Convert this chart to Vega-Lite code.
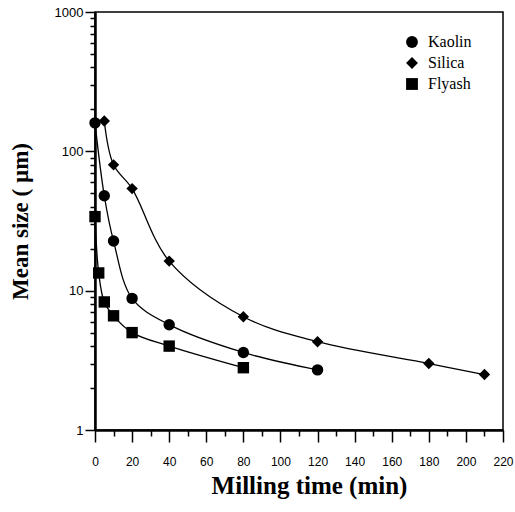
{
  "$schema": "https://vega.github.io/schema/vega-lite/v6.json",
  "width": 408,
  "height": 418,
  "autosize": {"type": "none"},
  "padding": {"left": 95, "top": 12, "right": 12, "bottom": 82},
  "background": "white",
  "config": {
    "view": {"stroke": "black", "strokeWidth": 1.5},
    "axis": {"grid": false, "domainColor": "black", "domainWidth": 2.5, "tickColor": "black", "tickWidth": 1.5,
      "labelFont": "Liberation Sans", "labelFontSize": 12, "labelColor": "black",
      "titleFont": "Liberation Serif", "titleFontSize": 25, "titleFontWeight": "bold", "titleColor": "black"},
    "legend": {"labelFont": "Liberation Serif", "labelFontSize": 16, "labelColor": "black"},
    "font": "Liberation Serif"
  },
  "data": {"values": [
    {"material": "Kaolin", "t": 0, "size": 160},
    {"material": "Kaolin", "t": 5, "size": 48},
    {"material": "Kaolin", "t": 10, "size": 22.7},
    {"material": "Kaolin", "t": 20, "size": 8.8},
    {"material": "Kaolin", "t": 40, "size": 5.7},
    {"material": "Kaolin", "t": 80, "size": 3.6},
    {"material": "Kaolin", "t": 120, "size": 2.7},
    {"material": "Silica", "t": 5, "size": 165},
    {"material": "Silica", "t": 10, "size": 80},
    {"material": "Silica", "t": 20, "size": 54},
    {"material": "Silica", "t": 40, "size": 16.3},
    {"material": "Silica", "t": 80, "size": 6.5},
    {"material": "Silica", "t": 120, "size": 4.3},
    {"material": "Silica", "t": 180, "size": 3.0},
    {"material": "Silica", "t": 210, "size": 2.5},
    {"material": "Flyash", "t": 0, "size": 34},
    {"material": "Flyash", "t": 2, "size": 13.4},
    {"material": "Flyash", "t": 5, "size": 8.3},
    {"material": "Flyash", "t": 10, "size": 6.6},
    {"material": "Flyash", "t": 20, "size": 5.0},
    {"material": "Flyash", "t": 40, "size": 4.0},
    {"material": "Flyash", "t": 80, "size": 2.8}
  ]},
  "encoding": {
    "x": {"field": "t", "type": "quantitative",
      "scale": {"domain": [0, 220], "nice": false, "zero": false},
      "axis": {"title": "Milling time (min)",
        "values": [0,10,20,30,40,50,60,70,80,90,100,110,120,130,140,150,160,170,180,190,200,210,220],
        "labelExpr": "datum.value % 20 === 0 ? datum.value : ''",
        "tickSize": {"condition": {"test": "datum.value % 20 === 0", "value": 12}, "value": 6},
        "labelPadding": 14, "titlePadding": 6, "titleX": 214, "labelFlush": false}},
    "y": {"field": "size", "type": "quantitative",
      "scale": {"type": "log", "domain": [1, 1000], "nice": false},
      "axis": {"title": "Mean size ( µm)",
        "values": [1,2,3,4,5,6,7,8,9,10,20,30,40,50,60,70,80,90,100,200,300,400,500,600,700,800,900,1000],
        "labelExpr": "(datum.value === 1 || datum.value === 10 || datum.value === 100 || datum.value === 1000) ? datum.value : ''",
        "tickSize": {"condition": {"test": "datum.value === 1 || datum.value === 10 || datum.value === 100 || datum.value === 1000", "value": 10}, "value": 5},
        "labelFontSize": 13, "labelPadding": 2, "titleFontSize": 23, "titlePadding": 22, "labelFlush": false}}
  },
  "layer": [
    {"mark": {"type": "line", "interpolate": "catmull-rom", "color": "black", "strokeWidth": 1.3},
     "encoding": {"detail": {"field": "material"}}},
    {"mark": {"type": "point", "filled": true, "opacity": 1, "color": "black", "size": 130},
     "encoding": {"shape": {"field": "material", "type": "nominal",
       "scale": {"domain": ["Kaolin", "Silica", "Flyash"], "range": ["circle", "diamond", "square"]},
       "legend": {"title": null, "orient": "none", "legendX": 309, "legendY": 22,
         "labelFont": "Liberation Serif", "labelFontSize": 16, "labelColor": "black",
         "symbolFillColor": "black", "symbolStrokeColor": "black", "symbolSize": 140, "symbolOpacity": 1,
         "rowPadding": 3, "labelOffset": 8}}}}
  ]
}
